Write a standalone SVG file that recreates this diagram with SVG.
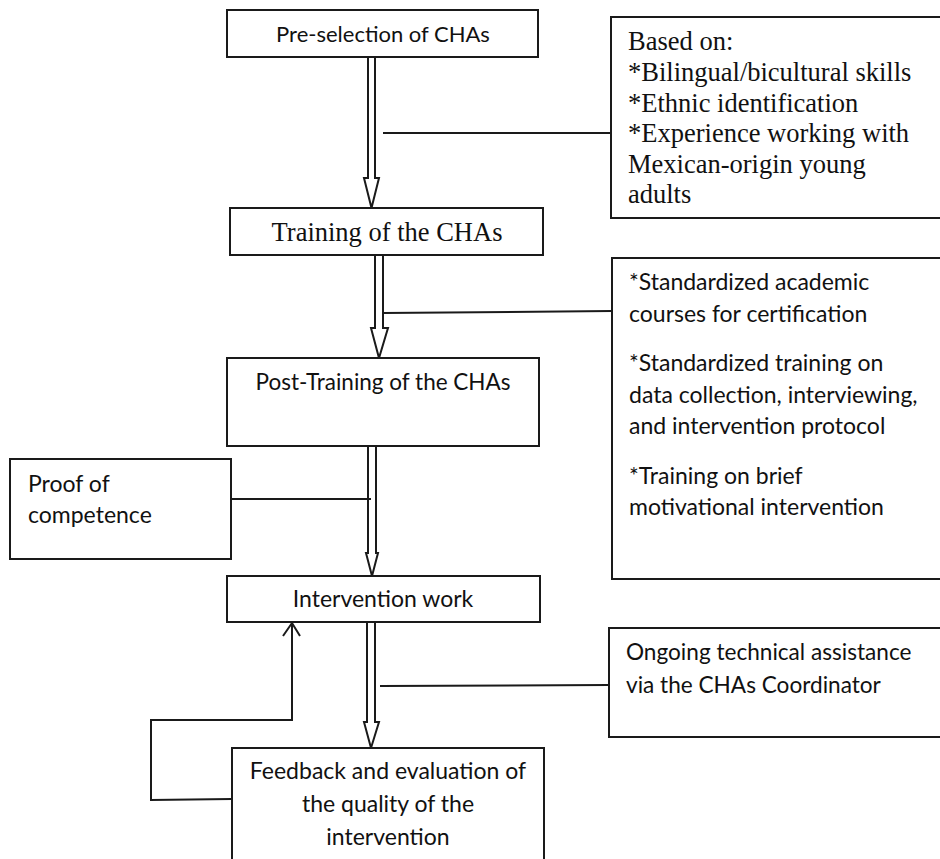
<svg xmlns="http://www.w3.org/2000/svg" width="940" height="859" viewBox="0 0 940 859">
<style>
.box{fill:#fff;stroke:#1a1a1a;stroke-width:2}
.s{font-family:Lato,"Liberation Sans",sans-serif;font-size:23px;fill:#111}
.t{font-family:"Liberation Serif","Times New Roman",serif;font-size:26.5px;fill:#111}
.c{text-anchor:middle}
.ln{fill:none;stroke:#1a1a1a;stroke-width:2}
.ar{fill:#fff;stroke:#1a1a1a;stroke-width:2;stroke-linejoin:miter}
</style>
<rect width="940" height="859" fill="#fff"/>
<g id="connectors">
<path class="ar" d="M368,57 V178 H364 L371.5,208 L379,178 H375 V57 Z"/>
<path class="ar" d="M375,255 V328 H371 L379,358 L388,328 H383 V255 Z"/>
<path class="ar" d="M368,446 V553 H366 L372,576 L378,553 H376 V446 Z"/>
<path class="ar" d="M367,622 V722 H364 L371,748 L379,722 H375 V622 Z"/>
<path class="ln" d="M383,133 H611"/>
<path class="ln" d="M383,313 L612,311"/>
<path class="ln" d="M231,499 H371"/>
<path class="ln" d="M380,686 L609,685"/>
<path class="ln" d="M232,799 L151,800 V720 H292 V624"/>
<path class="ln" d="M283,636 L292,623 L300,636"/>
</g>
<g id="pre-selection">
<rect class="box" x="227" y="10" width="311" height="47"/>
<text class="s c" x="383" y="42" style="font-size:22px">Pre-selection of CHAs</text>
</g>
<g id="training">
<rect class="box" x="230" y="208" width="313" height="47"/>
<text class="t c" x="387" y="241">Training of the CHAs</text>
</g>
<g id="post-training">
<rect class="box" x="227" y="358" width="312" height="88"/>
<text class="s c" x="383" y="390" style="font-size:22.5px">Post-Training of the CHAs</text>
</g>
<g id="proof">
<rect class="box" x="10" y="459" width="221" height="100"/>
<text class="s" x="28" y="492">Proof of</text>
<text class="s" x="28" y="523">competence</text>
</g>
<g id="intervention">
<rect class="box" x="227" y="576" width="313" height="46"/>
<text class="s c" x="383" y="607">Intervention work</text>
</g>
<g id="feedback">
<rect class="box" x="232" y="748" width="312" height="130"/>
<text class="s c" x="388" y="779">Feedback and evaluation of</text>
<text class="s c" x="388" y="812">the quality of the</text>
<text class="s c" x="388" y="845">intervention</text>
</g>
<g id="based-on">
<rect class="box" x="611" y="17" width="340" height="201"/>
<text class="t" x="628" y="50">Based on:</text>
<text class="t" x="628" y="81">*Bilingual/bicultural skills</text>
<text class="t" x="628" y="112">*Ethnic identification</text>
<text class="t" x="628" y="142">*Experience working with</text>
<text class="t" x="628" y="173">Mexican-origin young</text>
<text class="t" x="628" y="203">adults</text>
</g>
<g id="training-content">
<rect class="box" x="612" y="258" width="340" height="321"/>
<text class="s" x="629" y="290">*Standardized academic</text>
<text class="s" x="629" y="321.5">courses for certification</text>
<text class="s" x="629" y="371">*Standardized training on</text>
<text class="s" x="629" y="402.5">data collection, interviewing,</text>
<text class="s" x="629" y="434">and intervention protocol</text>
<text class="s" x="629" y="483.5">*Training on brief</text>
<text class="s" x="629" y="515">motivational intervention</text>
</g>
<g id="technical-assistance">
<rect class="box" x="609" y="628" width="340" height="109"/>
<text class="s" x="626" y="660" style="font-size:22.6px">Ongoing technical assistance</text>
<text class="s" x="626" y="693" style="font-size:22.6px">via the CHAs Coordinator</text>
</g>
</svg>
